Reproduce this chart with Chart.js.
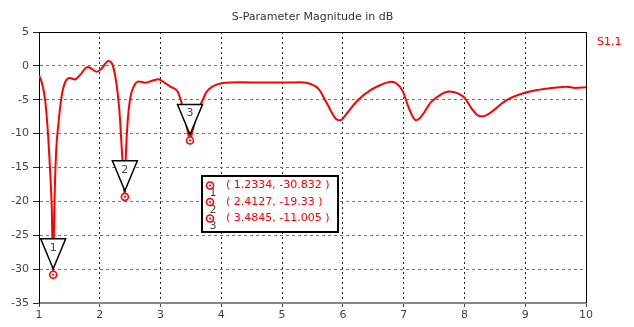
<!DOCTYPE html>
<html>
<head>
<meta charset="utf-8">
<script src="https://cdn.jsdelivr.net/npm/chart.js@4/dist/chart.umd.min.js"></script>
<style>
  html, body { margin: 0; padding: 0; background: #ffffff; }
  canvas { display: block; }
</style>
</head>
<body>
<canvas id="chart" width="634" height="327"></canvas>
<script>
  'use strict';

  // frequency points and S1,1 magnitude (dB)
  const freqs = [
    1.0, 1.05, 1.10, 1.14, 1.18, 1.21, 1.2334, 1.25, 1.28, 1.32, 1.37, 1.43, 1.51, 1.59, 1.675,
    1.80, 1.86, 1.95, 2.03, 2.14, 2.20, 2.26, 2.30, 2.33, 2.36, 2.39, 2.4127, 2.43, 2.46, 2.50,
    2.55, 2.64, 2.75, 2.86, 2.97, 3.02, 3.16, 3.28, 3.34, 3.40, 3.45, 3.4845, 3.52, 3.60, 3.68,
    3.76, 3.87, 4.01, 4.31, 4.7, 5.0, 5.30, 5.47, 5.60, 5.74, 5.90, 5.96, 6.04, 6.24, 6.46,
    6.62, 6.79, 6.87, 6.98, 7.09, 7.20, 7.28, 7.45, 7.61, 7.75, 7.89, 8.0, 8.12, 8.22, 8.30, 8.44,
    8.68, 9.02, 9.38, 9.68, 9.82, 10.0
  ];
  const s11 = [
    -1.4, -2.6, -5.0, -9.0, -15.0, -21.0, -30.832, -22.0, -13.0, -8.5, -4.6, -2.4, -1.8, -2.0, -1.35,
    -0.15, -0.4, -0.86, -0.4, 0.72, 0.35, -1.8, -4.5, -7.5, -12.0, -16.5, -19.33, -13.0, -8.0, -4.8,
    -3.2, -2.3, -2.48, -2.2, -1.98, -2.2, -3.07, -3.8, -5.3, -7.5, -9.8, -11.005, -9.8, -7.0, -5.3,
    -3.8, -2.97, -2.57, -2.43, -2.45, -2.45, -2.43, -2.68, -3.4, -5.6, -7.94, -8.04, -7.3, -5.1, -3.55,
    -2.82, -2.34, -2.53, -3.65, -6.33, -8.04, -7.56, -5.36, -4.24, -3.8, -4.05, -4.7, -6.3, -7.3, -7.45, -6.83,
    -5.12, -3.9, -3.32, -3.07, -3.26, -3.17
  ];

  const markerIds = ['1', '2', '3'];
  const markerX = [1.2334, 2.4127, 3.4845];
  const markerY = [-30.832, -19.33, -11.005];
  const markerText = ['( 1.2334, -30.832 )', '( 2.4127, -19.33 )', '( 3.4845, -11.005 )'];

  const xTicks = [1, 2, 3, 4, 5, 6, 7, 8, 9, 10];
  const yTicks = [5, 0, -5, -10, -15, -20, -25, -30, -35];

  const FONT = '"DejaVu Sans", Verdana, sans-serif';
  const RED = '#ff0000';

  const drawMarkerDot = (ctx, x, y) => {
    ctx.beginPath();
    ctx.arc(x, y, 3.5, 0, Math.PI * 2);
    ctx.fillStyle = '#ffffff';
    ctx.fill();
    ctx.lineWidth = 1.6;
    ctx.strokeStyle = RED;
    ctx.stroke();
    ctx.beginPath();
    ctx.arc(x, y, 1.1, 0, Math.PI * 2);
    ctx.fillStyle = RED;
    ctx.fill();
  };

  const decorations = {
    id: 'decorations',
    afterDatasetsDraw(chart) {
      const ctx = chart.ctx;
      const area = chart.chartArea;
      const xs = chart.scales.x;
      const ys = chart.scales.y;

      ctx.save();

      // frame: top and right edges
      ctx.strokeStyle = '#000000';
      ctx.lineWidth = 1;
      ctx.beginPath();
      ctx.moveTo(area.left, area.top + 0.5);
      ctx.lineTo(area.right + 0.5, area.top + 0.5);
      ctx.lineTo(area.right + 0.5, area.bottom);
      ctx.stroke();

      // title
      ctx.fillStyle = '#333333';
      ctx.font = '11px ' + FONT;
      ctx.textAlign = 'center';
      ctx.textBaseline = 'middle';
      ctx.fillText('S-Parameter Magnitude in dB', (area.left + area.right) / 2, 17);

      // trace name
      ctx.fillStyle = RED;
      ctx.textAlign = 'left';
      ctx.fillText('S1,1', 597, 42);

      // marker triangles
      markerX.forEach((mx, i) => {
        const px = xs.getPixelForValue(mx);
        const py = ys.getPixelForValue(markerY[i]);
        const apex = py - 6;
        const top = apex - 30;
        ctx.beginPath();
        ctx.moveTo(px - 12.5, top);
        ctx.lineTo(px + 12.5, top);
        ctx.lineTo(px, apex);
        ctx.closePath();
        ctx.fillStyle = '#ffffff';
        ctx.fill();
        ctx.lineWidth = 1.5;
        ctx.strokeStyle = '#000000';
        ctx.stroke();
        ctx.fillStyle = '#444444';
        ctx.font = '11px ' + FONT;
        ctx.textAlign = 'center';
        ctx.fillText(markerIds[i], px, top + 9);
        drawMarkerDot(ctx, px, py);
      });

      // marker readout box
      const bx = 202;
      const by = 176;
      const bw = 136;
      const bh = 56;
      ctx.fillStyle = '#ffffff';
      ctx.fillRect(bx, by, bw, bh);
      ctx.lineWidth = 2;
      ctx.strokeStyle = '#000000';
      ctx.strokeRect(bx, by, bw, bh);

      markerText.forEach((text, i) => {
        const rowY = by + 9.5 + i * 16.5;
        drawMarkerDot(ctx, bx + 8, rowY);
        ctx.fillStyle = '#444444';
        ctx.font = '11px ' + FONT;
        ctx.textAlign = 'center';
        ctx.fillText(markerIds[i], bx + 11, rowY + 8);
        ctx.fillStyle = RED;
        ctx.textAlign = 'left';
        ctx.fillText(text, bx + 24, rowY);
      });

      ctx.restore();
    },
  };

  new Chart(document.getElementById('chart'), {
    type: 'line',
    data: {
      datasets: [{
        label: 'S1,1',
        data: freqs.map((f, i) => ({ x: f, y: s11[i] })),
        borderColor: RED,
        borderWidth: 2,
        pointRadius: 0,
        cubicInterpolationMode: 'monotone',
        fill: false,
      }],
    },
    plugins: [decorations],
    options: {
      responsive: false,
      animation: false,
      layout: {
        padding: { top: 32, right: 48, left: 0, bottom: 0 },
      },
      plugins: {
        legend: { display: false },
        title: { display: false },
        tooltip: { enabled: false },
      },
      scales: {
        x: {
          type: 'linear',
          min: 1,
          max: 10,
          afterFit(scale) { scale.height = 24; },
          afterBuildTicks(scale) { scale.ticks = xTicks.map((v) => ({ value: v })); },
          ticks: {
            color: '#444444',
            font: { family: FONT, size: 11 },
            padding: 2,
            maxRotation: 0,
          },
          grid: {
            color: '#222222',
            lineWidth: 1,
            drawTicks: true,
            tickLength: 4,
            tickColor: '#444444',
          },
          border: {
            display: true,
            color: '#888888',
            width: 2,
            dash: [2, 3],
          },
        },
        y: {
          min: -35,
          max: 5,
          afterFit(scale) { scale.width = 39; },
          afterBuildTicks(scale) { scale.ticks = yTicks.map((v) => ({ value: v })); },
          ticks: {
            color: '#444444',
            font: { family: FONT, size: 11 },
            padding: 4,
          },
          grid: {
            color: '#777777',
            lineWidth: 1,
            drawTicks: true,
            tickLength: 6,
            tickColor: '#222222',
          },
          border: {
            display: true,
            color: '#000000',
            width: 1,
            dash: [3, 3],
          },
        },
      },
    },
  });
</script>
</body>
</html>
